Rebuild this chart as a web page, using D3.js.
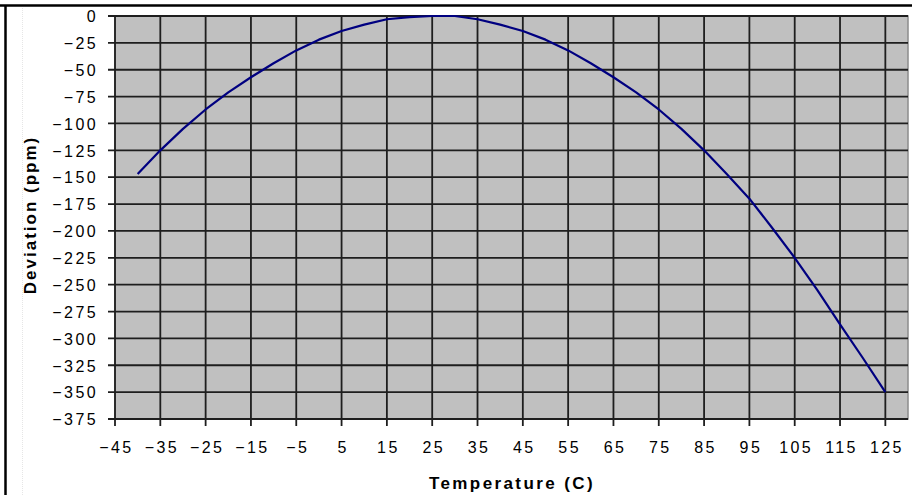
<!DOCTYPE html>
<html>
<head>
<meta charset="utf-8">
<script src="https://cdn.jsdelivr.net/npm/d3@7"></script>
<style>
  body { margin: 0; background: #fff; }
  svg text { font-family: "Liberation Sans", Arial, sans-serif; fill: #000; }
</style>
</head>
<body>
<div id="chart"></div>
<script>
// temperature (C) and deviation (ppm)
var temps = [-40, -35, -30, -25, -20, -15, -10, -5, 0, 5, 10, 15, 20, 25, 30, 35, 40,
             45, 50, 55, 60, 65, 70, 75, 80, 85, 90, 95, 100, 105, 110, 115, 120, 125];
var deviation = [-147, -125, -105, -87, -71, -57, -44, -32, -22, -14, -8, -3, -1, 0, 0, -3, -8,
                 -14, -22, -32, -44, -57, -71, -87, -105, -125, -147, -170, -197, -225, -255, -287, -318, -350];
var xTicks = [-45, -35, -25, -15, -5, 5, 15, 25, 35, 45, 55, 65, 75, 85, 95, 105, 115, 125];
var yTicks = [0, -25, -50, -75, -100, -125, -150, -175, -200, -225, -250, -275, -300, -325, -350, -375];

function drawChart() {
    var W = 912, H = 495;
    var margin = {top: 16, right: 4, bottom: 76, left: 115},
        width = W - margin.left - margin.right,
        height = H - margin.top - margin.bottom;

    var data = temps.map(function(t, i) { return {t: t, v: deviation[i]}; });

    var x = d3.scaleLinear().domain([-45, 130]).range([0, width]);
    var y = d3.scaleLinear().domain([-375, 0]).range([height, 0]);

    var root = d3.select("#chart").append("svg")
        .attr("width", W)
        .attr("height", H);

    // outer frame lines
    root.append("line").attr("x1", 0).attr("x2", W).attr("y1", 5.5).attr("y2", 5.5)
        .attr("stroke", "#000").attr("stroke-width", 2.5);
    root.append("line").attr("x1", 5.5).attr("x2", 5.5).attr("y1", 5).attr("y2", H)
        .attr("stroke", "#000").attr("stroke-width", 2.5);
    root.append("line").attr("x1", 22.5).attr("x2", 22.5).attr("y1", 8).attr("y2", H)
        .attr("stroke", "#e6e6e6").attr("stroke-width", 1).attr("stroke-dasharray", "1,1");

    var svg = root.append("g")
        .attr("transform", "translate(" + margin.left + "," + margin.top + ")");

    // plot background
    svg.append("rect")
        .attr("width", width)
        .attr("height", height)
        .attr("fill", "#c0c0c0")
        .attr("stroke", "#8c8c8c")
        .attr("stroke-width", 1.5);

    // gridlines (they run out past the plot as tick marks)
    svg.append("g")
        .selectAll("line.vgrid")
        .data(xTicks)
        .enter().append("line")
        .attr("x1", function(d) { return x(d); })
        .attr("x2", function(d) { return x(d); })
        .attr("y1", 0)
        .attr("y2", height + 7)
        .attr("stroke", "#1e1e1e")
        .attr("stroke-width", 1.8);

    svg.append("g")
        .selectAll("line.hgrid")
        .data(yTicks)
        .enter().append("line")
        .attr("x1", -7)
        .attr("x2", width)
        .attr("y1", function(d) { return y(d); })
        .attr("y2", function(d) { return y(d); })
        .attr("stroke", "#1e1e1e")
        .attr("stroke-width", 1.8);

    // y axis labels
    var yAxis = svg.append("g")
        .call(d3.axisLeft(y).tickValues(yTicks).tickSize(0).tickPadding(0));
    yAxis.select(".domain").remove();
    yAxis.selectAll("text")
        .attr("x", -17)
        .attr("dy", "0.36em")
        .style("font-size", "16px")
        .style("letter-spacing", "2.4px")
        .style("font-family", "Liberation Sans, Arial, sans-serif");

    // x axis labels
    var xAxis = svg.append("g")
        .attr("transform", "translate(0," + height + ")")
        .call(d3.axisBottom(x).tickValues(xTicks).tickSize(0).tickPadding(0));
    xAxis.select(".domain").remove();
    xAxis.selectAll("text")
        .attr("y", 23)
        .attr("dy", "0.71em")
        .attr("dx", "1px")
        .style("font-size", "16px")
        .style("letter-spacing", "2.4px")
        .style("font-family", "Liberation Sans, Arial, sans-serif");

    // the curve
    var line = d3.line()
        .x(function(d) { return x(d.t); })
        .y(function(d) { return y(d.v); });

    svg.append("path")
        .attr("fill", "none")
        .attr("stroke", "#000080")
        .attr("stroke-width", 2.2)
        .attr("stroke-linejoin", "round")
        .attr("d", line(data));

    // axis titles
    root.append("text")
        .attr("x", 512)
        .attr("y", 489)
        .attr("text-anchor", "middle")
        .style("font-size", "17px")
        .style("font-weight", "bold")
        .style("letter-spacing", "2.4px")
        .text("Temperature (C)");

    root.append("text")
        .attr("transform", "translate(36,215) rotate(-90)")
        .attr("text-anchor", "middle")
        .style("font-size", "17px")
        .style("font-weight", "bold")
        .style("letter-spacing", "2px")
        .text("Deviation (ppm)");
}
drawChart();
</script>
</body>
</html>
